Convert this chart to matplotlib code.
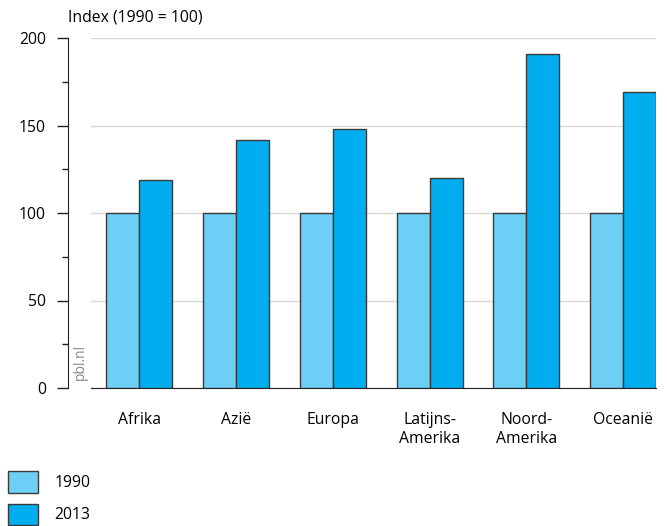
import numpy as np
import matplotlib.pyplot as plt
from matplotlib.patches import Patch
from matplotlib.ticker import MultipleLocator

plt.rcParams['font.family'] = ['Open Sans', 'DejaVu Sans']

regios = ["Afrika", "Azië", "Europa", "Latijns-\nAmerika", "Noord-\nAmerika", "Oceanië"]
index_1990 = [100, 100, 100, 100, 100, 100]
index_2013 = [119, 142, 148, 120, 191, 169]

kleur_1990 = "#6dcff6"
kleur_2013 = "#00aeef"
rand = "#3a3a3a"
fs = 11.3

fig = plt.figure(figsize=(6.67, 5.26), dpi=100)
ax = fig.add_axes([91/667, 1-388/526, (656-91)/667, (388-38)/526])

x = np.arange(len(regios))
w = 0.34
ax.bar(x - w/2, index_1990, w, color=kleur_1990, edgecolor=rand, linewidth=1, zorder=3)
ax.bar(x + w/2, index_2013, w, color=kleur_2013, edgecolor=rand, linewidth=1, zorder=3)

ax.set_xlim(-0.5, 5.34)
ax.set_ylim(0, 200)
ax.yaxis.set_major_locator(MultipleLocator(50))
ax.yaxis.set_minor_locator(MultipleLocator(25))
ax.grid(axis='y', color="#d9d9d9", linewidth=1, zorder=0)
ax.set_axisbelow(True)

for s in ["top", "right"]:
    ax.spines[s].set_visible(False)
ax.spines["left"].set_position(("outward", 16.5))
ax.spines["left"].set_color("#222222")
ax.spines["bottom"].set_color("#222222")

ax.tick_params(axis='y', which='major', length=8, width=1, color="#222222",
               labelsize=fs, pad=8)
ax.tick_params(axis='y', which='minor', length=4, width=1, color="#222222")
ax.set_xticks(x)
ax.set_xticklabels(regios, fontsize=fs, linespacing=1.25, va='top')
ax.tick_params(axis='x', length=0, pad=17)

fig.text(68/667, 1-18/526, "Index (1990 = 100)", fontsize=fs, va='center', ha='left')
fig.text(80/667, 1-362/526, "pbl.nl", fontsize=10, color="#8a8a8a", rotation=90,
         va='center', ha='center')

handles = [Patch(facecolor=kleur_1990, edgecolor=rand, label="1990"),
           Patch(facecolor=kleur_2013, edgecolor=rand, label="2013")]
fig.legend(handles=handles, loc='lower left', bbox_to_anchor=(8/667, 1/526),
           frameon=False, fontsize=fs, handlelength=1.9, handleheight=1.71,
           labelspacing=0.7, handletextpad=1.05, borderaxespad=0, borderpad=0)

fig.savefig("out.png", dpi=100)
